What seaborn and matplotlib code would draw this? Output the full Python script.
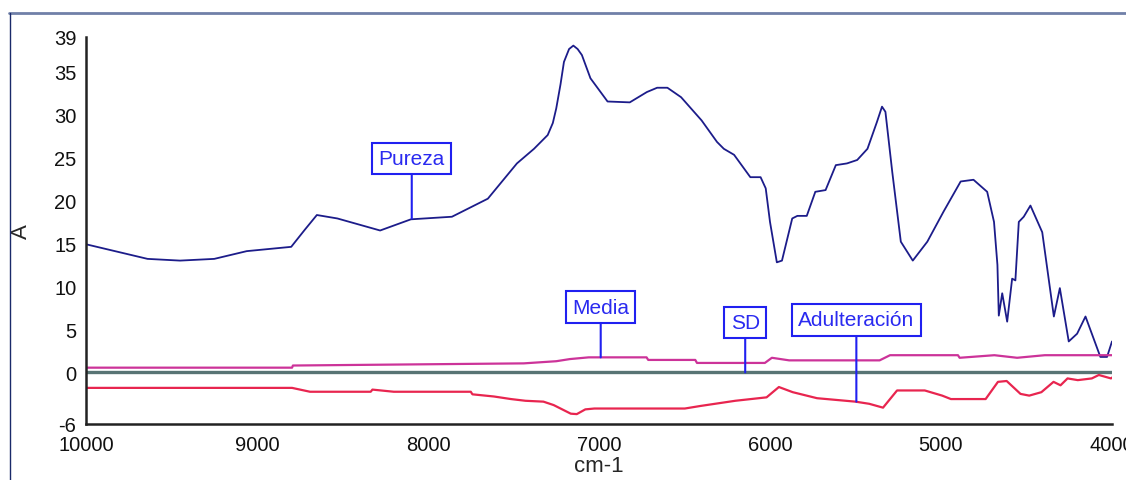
import matplotlib
matplotlib.use("Agg")
import matplotlib.pyplot as plt
from matplotlib.lines import Line2D
import pandas as pd
import seaborn as sns

# spectra (x in cm-1, y in A)
pureza_x = [10000, 9640, 9450, 9250, 9060, 8800, 8720, 8650, 8530, 8280, 8100, 7860,
            7650, 7480, 7380, 7300, 7270, 7250, 7225, 7205, 7175, 7150, 7125, 7100,
            7050, 6950, 6820, 6720, 6660, 6600, 6520, 6400, 6310, 6270, 6210, 6115,
            6055, 6025, 6000, 5960, 5930, 5870, 5840, 5785, 5735, 5675, 5615, 5550,
            5490, 5430, 5375, 5345, 5325, 5285, 5235, 5165, 5080, 4985, 4885, 4810,
            4730, 4690, 4670, 4662, 4642, 4613, 4584, 4565, 4545, 4516, 4477, 4408,
            4340, 4305, 4253, 4204, 4155, 4068, 4029, 4000]
pureza_y = [14.9, 13.2, 13.0, 13.2, 14.1, 14.6, 16.6, 18.3, 17.9, 16.5, 17.8, 18.1,
            20.2, 24.3, 26.0, 27.6, 29.0, 30.7, 33.5, 36.1, 37.6, 38.0, 37.6, 36.9,
            34.2, 31.5, 31.4, 32.6, 33.1, 33.1, 32.0, 29.3, 26.8, 26.0, 25.3, 22.7,
            22.7, 21.4, 17.5, 12.8, 13.0, 17.9, 18.2, 18.2, 21.0, 21.2, 24.1, 24.3,
            24.7, 26.0, 29.1, 30.9, 30.3, 23.3, 15.2, 13.0, 15.2, 18.7, 22.2, 22.4,
            21.0, 17.5, 12.5, 6.6, 9.2, 5.9, 10.9, 10.7, 17.5, 18.1, 19.4, 16.3,
            6.5, 9.8, 3.6, 4.5, 6.5, 1.8, 1.8, 3.6]

media_x = [10000, 8795, 8790, 7440, 7250, 7170, 7060, 6722, 6712, 6437, 6427, 6030,
           5989, 5888, 5359, 5298, 4901, 4891, 4688, 4555, 4393, 4000]
media_y = [0.55, 0.55, 0.8, 1.05, 1.3, 1.55, 1.75, 1.75, 1.45, 1.45, 1.1, 1.1,
           1.7, 1.4, 1.4, 2.0, 2.0, 1.7, 2.0, 1.7, 2.0, 2.0]

sd_x = [10000, 4000]
sd_y = [0.0, 0.0]

adult_x = [10000, 8795, 8690, 8335, 8325, 8200, 7750, 7740, 7615, 7515, 7430, 7325,
           7265, 7165, 7130, 7080, 7027, 6498, 6406, 6203, 6020, 5948, 5867, 5725,
           5501, 5420, 5339, 5257, 5095, 4993, 4942, 4739, 4667, 4616, 4535, 4484,
           4413, 4342, 4301, 4260, 4200, 4118, 4077, 4006, 4000]
adult_y = [-1.8, -1.8, -2.25, -2.25, -2.0, -2.25, -2.25, -2.55, -2.8, -3.1, -3.3, -3.4,
           -3.8, -4.8, -4.85, -4.3, -4.2, -4.2, -3.9, -3.3, -2.9, -1.7, -2.3, -3.0,
           -3.4, -3.65, -4.1, -2.1, -2.1, -2.7, -3.1, -3.1, -1.1, -1.0, -2.5, -2.7,
           -2.3, -1.1, -1.5, -0.7, -0.9, -0.7, -0.3, -0.7, -0.6]

# label: (name, anchor x, anchor y, text y)
labels = [("Pureza", 8095, 17.9, 24.85),
          ("Media", 6990, 1.75, 7.6),
          ("SD", 6145, 0.0, 5.8),
          ("Adulteración", 5495, -3.4, 6.1)]

yticks = [-6, 0, 5, 10, 15, 20, 25, 30, 35, 39]
xticks = [10000, 9000, 8000, 7000, 6000, 5000, 4000]

sns.set_style("white")
plt.rcParams['font.family'] = ['Liberation Sans', 'DejaVu Sans']
plt.rcParams['axes.unicode_minus'] = False

fig = plt.figure(figsize=(11.26, 4.81), dpi=100)
ax = fig.add_axes([86/1126, 1-425/481, (1112-86)/1126, (425-38)/481])

series = [(pureza_x, pureza_y, "#1c1c8a", 1.3),
          (media_x, media_y, "#cc3399", 1.6),
          (sd_x, sd_y, "#587474", 2.4),
          (adult_x, adult_y, "#e8254f", 1.6)]
for xs, ys, col, lw in series:
    d = pd.DataFrame({"x": xs, "y": ys})
    sns.lineplot(data=d, x="x", y="y", ax=ax, color=col, linewidth=lw,
                 estimator=None, sort=False)

for name, xa, ya, yt in labels:
    ax.annotate(name, xy=(xa, ya), xytext=(xa, yt), ha="center", va="center",
                fontsize=15, color="#2a2af0",
                bbox=dict(boxstyle="square,pad=0.3", fc="white", ec="#2020f0", lw=1.5),
                arrowprops=dict(arrowstyle="-", color="#2020f0", lw=1.5,
                                shrinkA=0, shrinkB=0))

ax.set_xlim(10000, 4000)
ax.set_ylim(-6, 39)
ax.set_xticks(xticks)
ax.set_yticks(yticks)
ax.tick_params(axis="both", labelsize=14.5, direction="out", length=6, width=1.5,
               color="#333333", labelcolor="#111111", pad=2)
ax.tick_params(axis="y", pad=1)
for s in ["top", "right"]:
    ax.spines[s].set_visible(False)
for s in ["left", "bottom"]:
    ax.spines[s].set_linewidth(1.8)
    ax.spines[s].set_color("#222222")
ax.set_xlabel("cm-1", fontsize=16, labelpad=1)
ax.set_ylabel("A", fontsize=16)
ax.yaxis.set_label_coords(-0.053, 0.5)

# window frame of the original screenshot
fig.add_artist(Line2D([9/1126, 1], [1-14/481, 1-14/481], transform=fig.transFigure,
                      color="#7080a8", lw=2))
fig.add_artist(Line2D([10/1126, 10/1126], [0, 1-14/481], transform=fig.transFigure,
                      color="#1a2a6a", lw=1))

fig.savefig("out.png", dpi=100)
